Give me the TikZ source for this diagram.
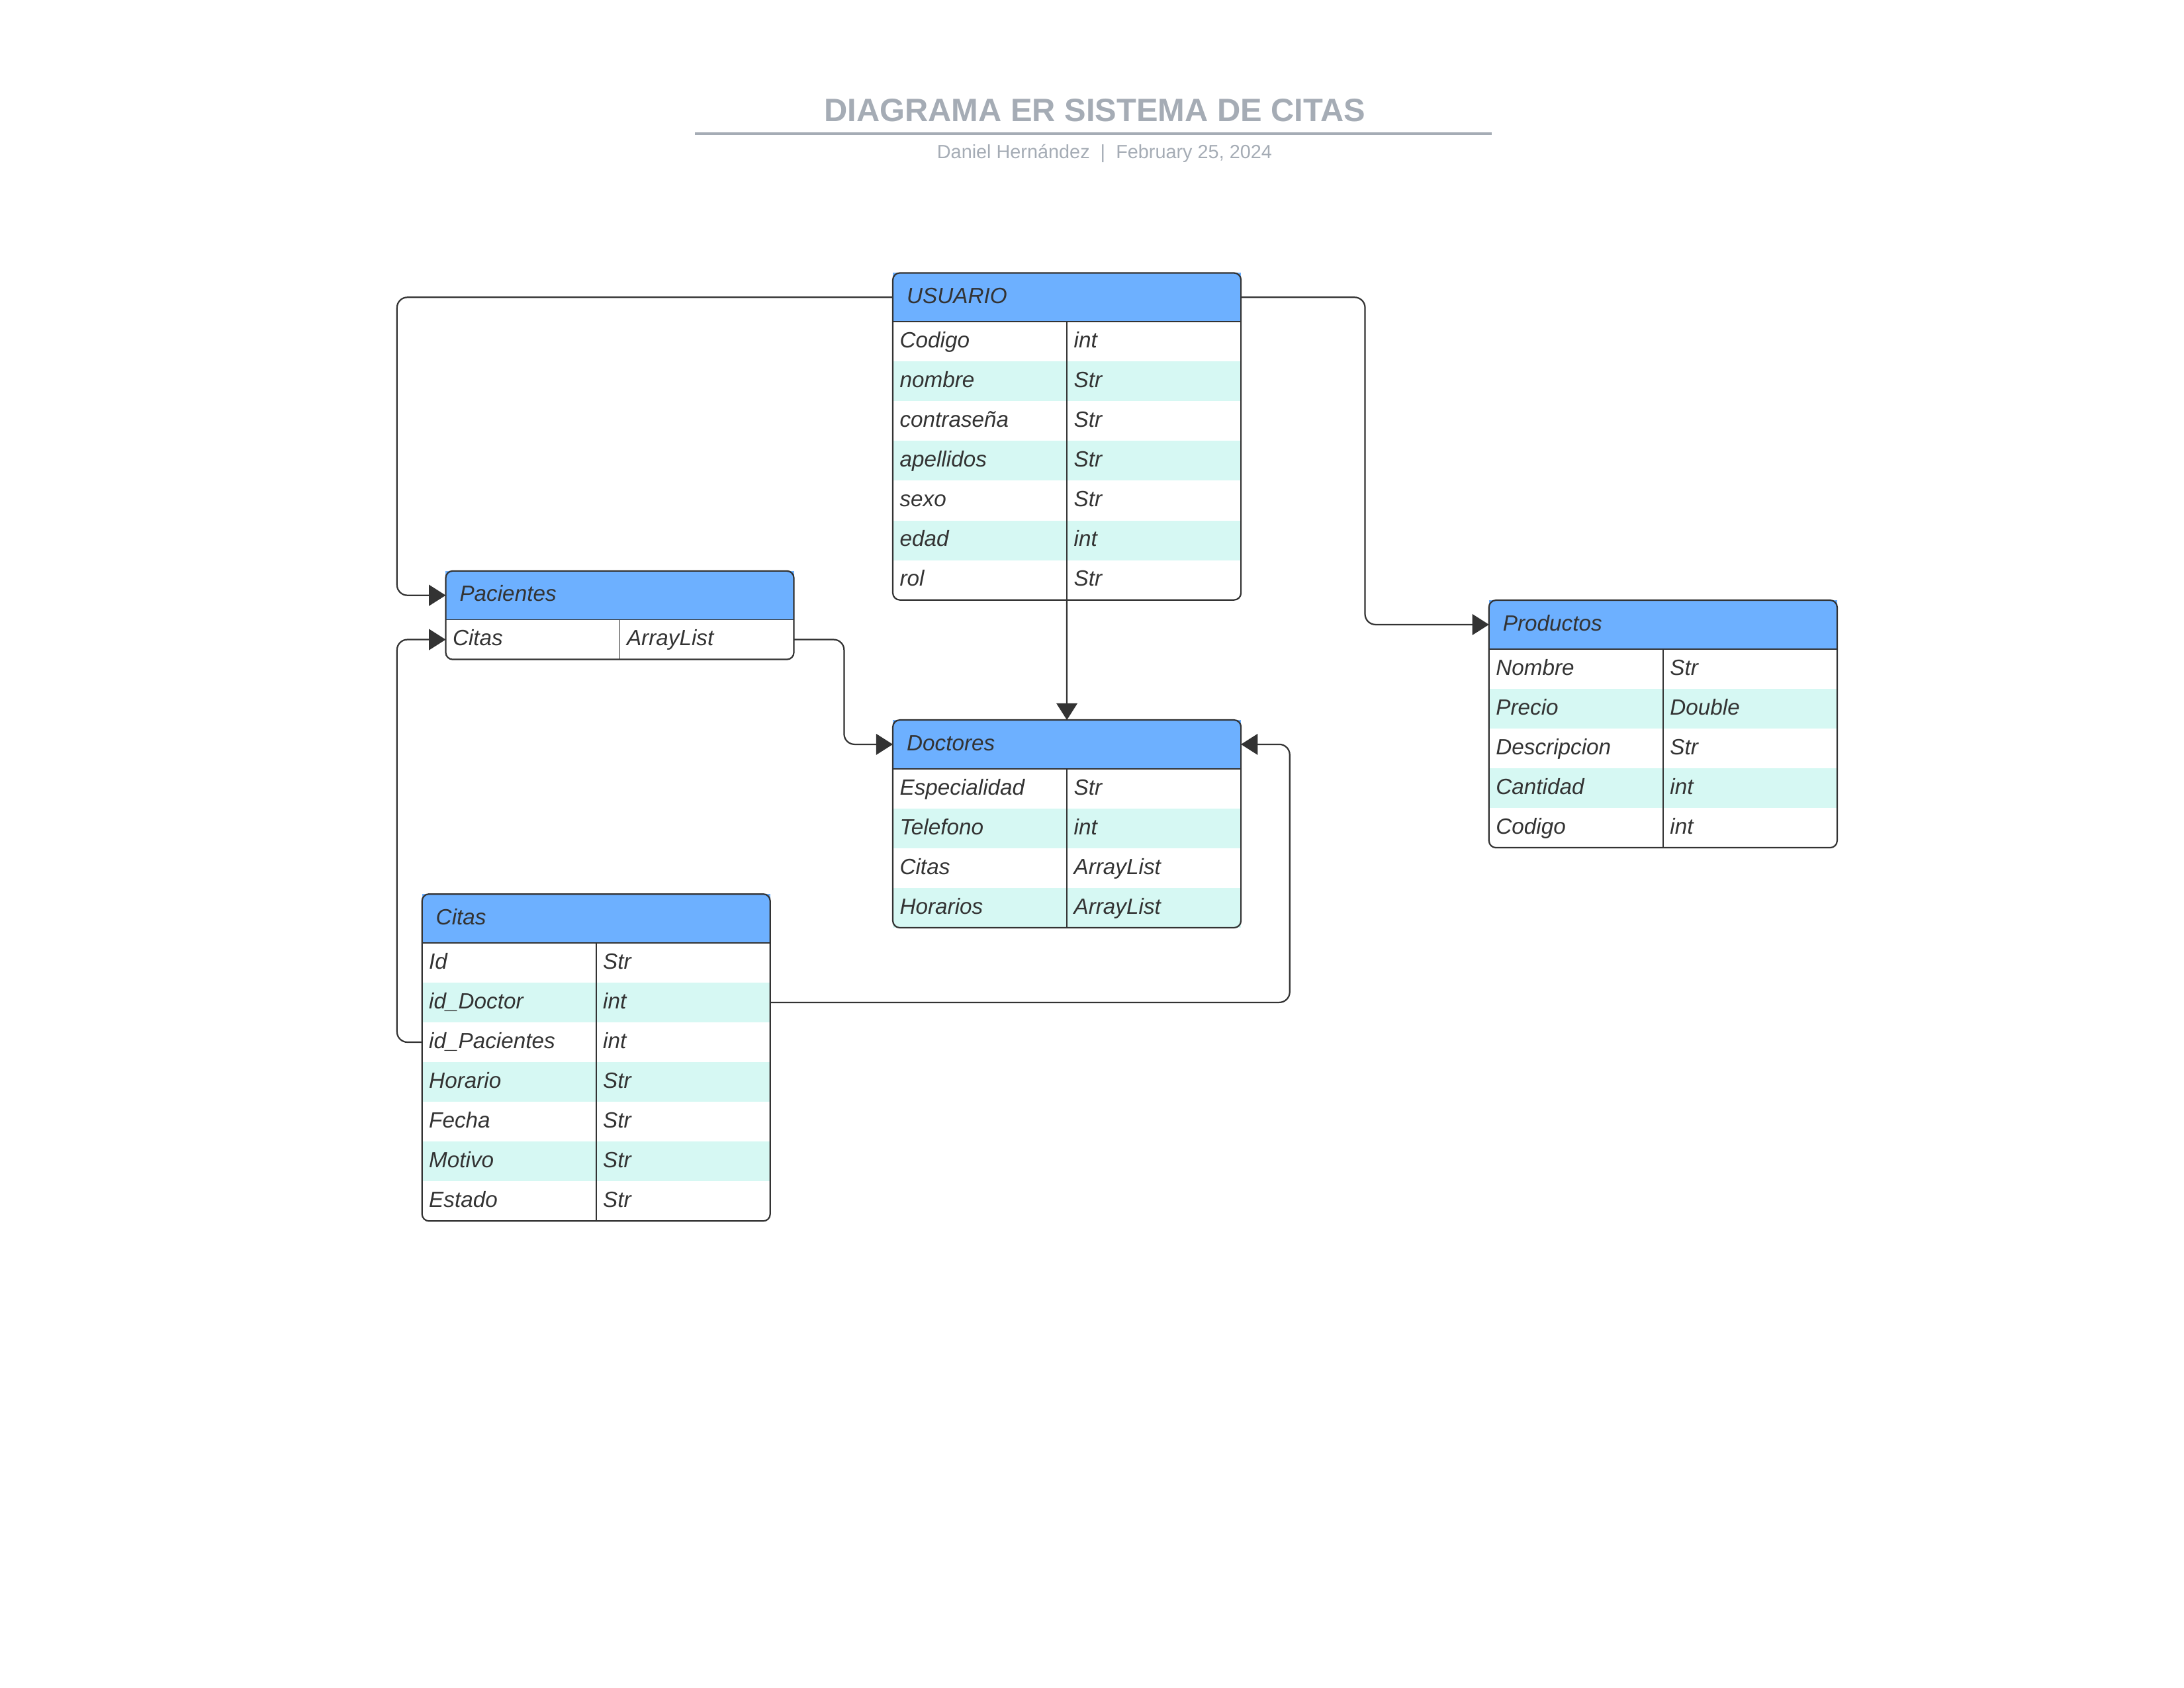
\documentclass[tikz,border=0pt]{standalone}
\usepackage{fontspec}
\setmainfont{Liberation Sans}
\usetikzlibrary{positioning,arrows.meta}
\definecolor{hdrblue}{HTML}{6DB0FF}
\definecolor{rowmint}{HTML}{D6F8F3}
\definecolor{inkgray}{HTML}{333333}
\definecolor{titlegray}{HTML}{A5ACB5}

\begin{document}
\begin{tikzpicture}[x=0.02cm, y=-0.02cm]

% definitions
\tikzstyle{header} = [rectangle, anchor=north west, minimum width=5cm, minimum height=0.7cm, inner xsep=0.2cm, inner ysep=0pt, outer sep=0pt, text width=4.6cm, text height=7pt, text depth=2pt, align=left, fill=hdrblue, text=inkgray, font=\fontsize{9}{11}\selectfont\itshape]

\tikzstyle{field} = [rectangle, minimum width=2.5cm, minimum height=0.571cm, inner xsep=0.1cm, inner ysep=0pt, outer sep=0pt, text width=2.3cm, text height=7pt, text depth=2pt, align=left, text=inkgray, font=\fontsize{9}{11}\selectfont\itshape]

\tikzstyle{shaded} = [fill=rowmint]

\tikzstyle{border} = [draw=inkgray, line width=0.6pt, rounded corners=0.1cm]

\tikzstyle{divider} = [draw=inkgray, line width=0.5pt]

\tikzstyle{arrow} = [draw=inkgray, line width=0.6pt, rounded corners=0.15cm, -{Triangle[length=0.24cm, width=0.3cm]}]

\useasboundingbox (0,0) rectangle (1568,1212);

% title
\node (title) [font=\fontsize{13.2}{15}\selectfont\bfseries, text=titlegray] at (786,79) {DIAGRAMA ER SISTEMA DE CITAS};
\draw [titlegray, line width=1.1pt] (499,96) -- (1071,96);
\node (byline) [font=\fontsize{7.8}{9}\selectfont, text=titlegray] at (793,110) {Daniel Hernández~~|~~February 25, 2024};

% USUARIO
\node (uh) [header] at (641,196) {USUARIO};
\node (u1) [field, anchor=north west] at (uh.south west) {Codigo};
\node (u1t) [field, right=0pt of u1] {int};
\node (u2) [field, shaded, below=0pt of u1] {nombre};
\node (u2t) [field, shaded, right=0pt of u2] {Str};
\node (u3) [field, below=0pt of u2] {contraseña};
\node (u3t) [field, right=0pt of u3] {Str};
\node (u4) [field, shaded, below=0pt of u3] {apellidos};
\node (u4t) [field, shaded, right=0pt of u4] {Str};
\node (u5) [field, below=0pt of u4] {sexo};
\node (u5t) [field, right=0pt of u5] {Str};
\node (u6) [field, shaded, below=0pt of u5] {edad};
\node (u6t) [field, shaded, right=0pt of u6] {int};
\node (u7) [field, below=0pt of u6] {rol};
\node (u7t) [field, right=0pt of u7] {Str};
\draw [border] (uh.north west) rectangle (u7t.south east);
\draw [divider] (uh.south west) -- (uh.south east);
\draw [divider] (u1t.north west) -- (u7t.south west);

% Pacientes
\node (ph) [header] at (320,410) {Pacientes};
\node (p1) [field, anchor=north west] at (ph.south west) {Citas};
\node (p1t) [field, right=0pt of p1] {ArrayList};
\draw [border] (ph.north west) rectangle (p1t.south east);
\draw [divider] (ph.south west) -- (ph.south east);
\draw [divider] (p1t.north west) -- (p1t.south west);

% Doctores
\node (dh) [header] at (641,517) {Doctores};
\node (d1) [field, anchor=north west] at (dh.south west) {Especialidad};
\node (d1t) [field, right=0pt of d1] {Str};
\node (d2) [field, shaded, below=0pt of d1] {Telefono};
\node (d2t) [field, shaded, right=0pt of d2] {int};
\node (d3) [field, below=0pt of d2] {Citas};
\node (d3t) [field, right=0pt of d3] {ArrayList};
\node (d4) [field, shaded, below=0pt of d3] {Horarios};
\node (d4t) [field, shaded, right=0pt of d4] {ArrayList};
\draw [border] (dh.north west) rectangle (d4t.south east);
\draw [divider] (dh.south west) -- (dh.south east);
\draw [divider] (d1t.north west) -- (d4t.south west);

% Productos
\node (rh) [header] at (1069,431) {Productos};
\node (r1) [field, anchor=north west] at (rh.south west) {Nombre};
\node (r1t) [field, right=0pt of r1] {Str};
\node (r2) [field, shaded, below=0pt of r1] {Precio};
\node (r2t) [field, shaded, right=0pt of r2] {Double};
\node (r3) [field, below=0pt of r2] {Descripcion};
\node (r3t) [field, right=0pt of r3] {Str};
\node (r4) [field, shaded, below=0pt of r3] {Cantidad};
\node (r4t) [field, shaded, right=0pt of r4] {int};
\node (r5) [field, below=0pt of r4] {Codigo};
\node (r5t) [field, right=0pt of r5] {int};
\draw [border] (rh.north west) rectangle (r5t.south east);
\draw [divider] (rh.south west) -- (rh.south east);
\draw [divider] (r1t.north west) -- (r5t.south west);

% Citas
\node (ch) [header] at (303,642) {Citas};
\node (c1) [field, anchor=north west] at (ch.south west) {Id};
\node (c1t) [field, right=0pt of c1] {Str};
\node (c2) [field, shaded, below=0pt of c1] {id\_Doctor};
\node (c2t) [field, shaded, right=0pt of c2] {int};
\node (c3) [field, below=0pt of c2] {id\_Pacientes};
\node (c3t) [field, right=0pt of c3] {int};
\node (c4) [field, shaded, below=0pt of c3] {Horario};
\node (c4t) [field, shaded, right=0pt of c4] {Str};
\node (c5) [field, below=0pt of c4] {Fecha};
\node (c5t) [field, right=0pt of c5] {Str};
\node (c6) [field, shaded, below=0pt of c5] {Motivo};
\node (c6t) [field, shaded, right=0pt of c6] {Str};
\node (c7) [field, below=0pt of c6] {Estado};
\node (c7t) [field, right=0pt of c7] {Str};
\draw [border] (ch.north west) rectangle (c7t.south east);
\draw [divider] (ch.south west) -- (ch.south east);
\draw [divider] (c1t.north west) -- (c7t.south west);

% the relations
\draw [arrow] (uh.west) -| ([xshift=-0.7cm]ph.west) -- (ph.west);
\draw [arrow] (uh.east) -| ([xshift=-1.78cm]rh.west) -- (rh.west);
\draw [arrow] (u7.south east) -- (dh.north);
\draw [arrow] (p1t.east) -| ([xshift=-0.7cm]dh.west) -- (dh.west);
\draw [arrow] (c2t.east) -| ([xshift=0.7cm]dh.east) -- (dh.east);
\draw [arrow] (c3.west) -| ([xshift=-0.7cm]p1.west) -- (p1.west);

\end{tikzpicture}
\end{document}
